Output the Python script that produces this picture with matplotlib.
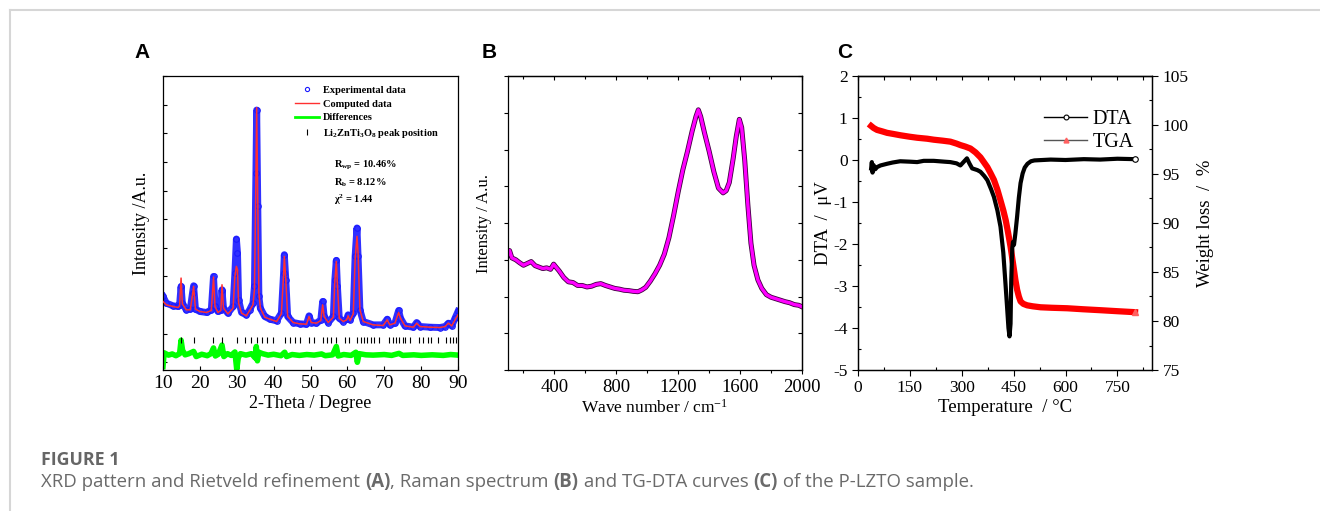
import numpy as np
import matplotlib
matplotlib.use("Agg")
import matplotlib.pyplot as plt
from matplotlib.lines import Line2D
from matplotlib.ticker import MultipleLocator, NullFormatter

plt.rcParams.update({
    "font.family": "serif",
    "font.serif": ["Liberation Serif", "DejaVu Serif"],
    "mathtext.fontset": "custom",
    "mathtext.rm": "Liberation Serif",
    "mathtext.it": "Liberation Serif:italic",
    "mathtext.bf": "Liberation Serif:bold",
    "axes.linewidth": 0.9,
    "axes.unicode_minus": False,
})

# ── Panel A: XRD / Rietveld ──────────────────────────────────────
xrd_theta = [10.0, 10.9, 12.7, 14.1, 14.5, 14.9, 15.25, 16.3, 17.4, 18.0, 18.3, 18.8,
             20.0, 21.8, 23.1, 23.7, 24.1, 24.9, 25.7, 26.0, 26.4, 27.6, 29.0, 29.5,
             29.9, 30.2, 30.5, 31.3, 32.6, 33.5, 34.4, 34.8, 35.2, 35.4, 35.7, 36.0,
             36.4, 37.6, 39.0, 40.8, 42.1, 42.7, 42.9, 43.3, 43.8, 45.3, 47.1, 48.9,
             49.6, 50.2, 51.6, 52.8, 53.3, 53.7, 54.8, 56.2, 56.6, 57.0, 57.3, 57.8,
             58.9, 59.8, 60.2, 60.7, 61.6, 62.1, 62.6, 62.9, 63.4, 64.3, 67.0, 69.7,
             70.8, 71.5, 72.9, 73.9, 74.4, 75.6, 77.9, 78.8, 79.7, 82.4, 85.1, 86.5,
             87.4, 88.3, 89.2, 90.0]
xrd_exp = [2299, 2066, 1972, 1949, 2007, 2649, 2066, 1832, 1856, 2416, 2672, 1856,
           1774, 1739, 1832, 2999, 1949, 1774, 1809, 2532, 1891, 1716, 1949, 3116,
           4306, 3816, 2182, 1739, 1657, 1832, 2066, 2649, 6617, 8811, 5450, 2299,
           1891, 1599, 1505, 1447, 1716, 3116, 3758, 2882, 1599, 1389, 1342, 1330,
           1622, 1389, 1365, 1482, 2124, 1599, 1389, 1599, 2882, 3559, 2649, 1540,
           1424, 1505, 1657, 1482, 1716, 3699, 4691, 3699, 1832, 1424, 1307, 1307,
           1505, 1307, 1365, 1809, 1540, 1272, 1225, 1389, 1249, 1225, 1214, 1249,
           1365, 1272, 1540, 1774]
xrd_calc = [2124, 2007, 1949, 1914, 1972, 2941, 2042, 1832, 1832, 2357, 2649, 1856,
            1774, 1739, 1809, 2976, 1949, 1739, 1809, 2707, 1891, 1692, 1891, 2999,
            3349, 3233, 2066, 1716, 1622, 1809, 2007, 2532, 6383, 8893, 5683, 2416,
            1891, 1575, 1505, 1424, 1692, 3058, 3699, 2882, 1599, 1389, 1342, 1330,
            1599, 1389, 1365, 1459, 2007, 1599, 1389, 1575, 2824, 3524, 2707, 1540,
            1424, 1482, 1622, 1459, 1692, 3583, 4400, 3816, 1832, 1424, 1307, 1284,
            1482, 1307, 1365, 1739, 1540, 1272, 1225, 1365, 1249, 1225, 1214, 1249,
            1365, 1272, 1482, 1657]

diff_theta = [10.0, 10.3, 11.5, 12.5, 13.5, 14.5, 14.9, 15.3, 16.0, 17.0, 18.3, 19.0,
              20.5, 22.0, 23.0, 23.7, 24.2, 25.0, 26.0, 26.5, 27.5, 28.5, 29.5, 30.0,
              30.4, 31.0, 32.5, 34.0, 35.0, 35.3, 35.6, 36.0, 37.0, 38.5, 40.0, 42.0,
              43.0, 43.5, 45.0, 47.0, 49.0, 51.0, 53.0, 54.0, 56.0, 57.0, 57.5, 59.0,
              61.0, 62.3, 62.7, 63.2, 65.0, 67.0, 70.0, 72.0, 74.0, 75.0, 78.0, 80.0,
              83.0, 86.0, 88.0, 90.0]
diff_int = [-150, 330, 250, 290, 230, 300, 770, 420, 260, 300, 380, 200,
            280, 230, 300, 500, 220, 280, 600, 200, 300, 240, 360, -250,
            150, 300, 250, 300, 150, 550, 50, 350, 300, 250, 280, 230,
            350, 200, 270, 240, 270, 250, 290, 230, 260, 550, 220, 270,
            240, 350, 0, 300, 260, 250, 270, 240, 310, 240, 260, 240,
            260, 240, 270, 250]

peak_pos = [14.89, 18.33, 23.68, 26.03, 30.2, 32.19, 33.82, 35.36, 36.72, 38.08,
            39.71, 43.15, 44.42, 45.78, 47.23, 49.67, 50.94, 53.3, 54.38, 55.47,
            56.92, 59.46, 60.54, 62.72, 63.62, 64.62, 65.43, 66.43, 67.34, 68.70,
            71.41, 72.32, 73.13, 74.13, 74.95, 75.76, 77.03, 79.47, 80.47, 81.74,
            82.64, 84.46, 86.72, 87.72, 88.62, 89.53]

# ── Panel B: Raman ───────────────────────────────────────────────
raman_x = [100, 110, 125, 150, 175, 200, 225, 250, 275, 300, 325, 350, 375, 395,
           410, 430, 460, 490, 520, 550, 580, 610, 640, 670, 700, 730, 760, 790,
           820, 850, 880, 910, 940, 965, 990, 1020, 1050, 1080, 1110, 1140, 1170,
           1200, 1230, 1260, 1290, 1315, 1330, 1345, 1370, 1400, 1430, 1460, 1490,
           1510, 1530, 1555, 1575, 1595, 1610, 1630, 1650, 1670, 1690, 1715, 1740,
           1770, 1800, 1830, 1860, 1890, 1920, 1950, 1980, 2000]
raman_y = [3.15, 3.25, 3.05, 3.00, 2.92, 2.85, 2.90, 2.95, 2.84, 2.80, 2.76, 2.78,
           2.74, 2.88, 2.80, 2.70, 2.52, 2.40, 2.38, 2.30, 2.30, 2.26, 2.28, 2.33,
           2.35, 2.30, 2.26, 2.22, 2.20, 2.17, 2.16, 2.14, 2.13, 2.18, 2.25, 2.42,
           2.62, 2.85, 3.15, 3.60, 4.20, 4.85, 5.45, 5.95, 6.50, 6.90, 7.08, 6.90,
           6.45, 5.95, 5.40, 4.95, 4.82, 4.88, 5.10, 5.75, 6.35, 6.82, 6.60, 5.70,
           4.50, 3.45, 2.85, 2.45, 2.22, 2.05, 1.98, 1.94, 1.90, 1.86, 1.83, 1.78,
           1.76, 1.72]

# ── Panel C: TG-DTA ──────────────────────────────────────────────
dta_t = [38, 40, 42, 45, 50, 55, 65, 84, 100, 122, 150, 171, 190, 219, 250, 267,
         285, 296, 305, 315, 322, 330, 345, 354, 365, 374, 385, 393, 403, 412, 420,
         426, 431, 435, 438, 441, 443, 446, 448, 451, 455, 460, 465, 470, 476, 482,
         490, 500, 510, 557, 600, 653, 700, 750, 801]
dta_v = [-0.20, -0.05, -0.30, -0.12, -0.22, -0.17, -0.13, -0.09, -0.06, -0.03, -0.04,
         -0.05, -0.02, -0.02, -0.04, -0.05, -0.08, -0.13, -0.05, 0.04, -0.08, -0.20,
         -0.24, -0.28, -0.38, -0.48, -0.70, -0.88, -1.20, -1.59, -2.20, -2.90, -3.50,
         -4.00, -4.20, -3.90, -2.90, -2.10, -1.95, -2.02, -1.75, -1.35, -0.90, -0.55,
         -0.32, -0.18, -0.09, -0.03, -0.01, 0.01, 0.00, 0.02, 0.01, 0.03, 0.02]

tga_t = [38, 45, 55, 70, 84, 100, 123, 150, 171, 200, 219, 245, 267, 285, 296, 310,
         325, 340, 354, 364, 374, 383, 393, 403, 412, 420, 427, 434, 441, 446, 451,
         455, 460, 465, 470, 478, 489, 505, 528, 560, 605, 650, 702, 750, 801]
tga_w = [99.9, 99.7, 99.5, 99.35, 99.2, 99.1, 98.95, 98.8, 98.7, 98.6, 98.5, 98.4,
         98.3, 98.1, 97.95, 97.8, 97.6, 97.2, 96.7, 96.2, 95.7, 95.1, 94.4, 93.4,
         92.3, 91.3, 90.3, 89.0, 87.6, 86.4, 85.2, 84.2, 83.2, 82.5, 82.0, 81.75,
         81.6, 81.5, 81.4, 81.35, 81.3, 81.2, 81.1, 81.0, 80.9]

W, H = 1320, 511
fig = plt.figure(figsize=(W / 100, H / 100), dpi=100)


def box(left, top, right, bottom):
    return [left / W, 1 - bottom / H, (right - left) / W, (bottom - top) / H]


# ── A ────────────────────────────────────────────────────────────
axA = fig.add_axes(box(163, 76, 458, 370))
axA.plot(xrd_theta, xrd_exp, color="#3030ff", lw=5, solid_joinstyle="round", zorder=2)
axA.plot(xrd_theta, xrd_exp, ls="none", marker="o", ms=4, mfc="none",
         mec="#1a1aff", mew=0.8, zorder=2)
axA.plot(xrd_theta, xrd_calc, color="#ff3030", lw=1.1, zorder=3)
axA.plot(diff_theta, diff_int, color="#00ff00", lw=4, zorder=2)
axA.plot(peak_pos, np.full(len(peak_pos), 770), ls="none", marker="|", ms=4.5,
         color="k", mew=0.8)

axA.set_xlim(10, 90)
axA.set_ylim(-270, 10000)
axA.xaxis.set_major_locator(MultipleLocator(10))
axA.yaxis.set_major_locator(MultipleLocator(1000))
axA.yaxis.set_major_formatter(NullFormatter())
axA.tick_params(direction="in", length=3, width=0.8, labelsize=14)
axA.set_xlabel("2-Theta / Degree", fontsize=13, labelpad=2)
axA.set_ylabel("Intensity /A.u.", fontsize=13, labelpad=6)

legA = [
    Line2D([0], [0], ls="none", marker="o", ms=3, mfc="none", mec="#1a1aff", mew=0.8),
    Line2D([0], [0], color="#ff3030", lw=1.0),
    Line2D([0], [0], color="#00ff00", lw=2.0),
    Line2D([0], [0], ls="none", marker="|", ms=4, color="k", mew=0.8),
]
axA.legend(legA, ["Experimental data", "Computed data", "Differences",
                  r"Li$_{\mathregular{2}}$ZnTi$_{\mathregular{3}}$O$_{\mathregular{8}}$ peak position"],
           loc="upper left", bbox_to_anchor=(0.43, 0.985), frameon=False,
           prop={"weight": "bold", "size": 7.5}, labelspacing=0.42,
           handlelength=2.3, handletextpad=0.4, borderpad=0)
for i, s in enumerate([r"R$_{\mathregular{wp}}$ = 10.46%",
                       r"R$_{\mathregular{b}}$ = 8.12%",
                       r"χ$^{\mathregular{2}}$ = 1.44"]):
    axA.text(0.578, 0.695 - i * 0.058, s, transform=axA.transAxes,
             fontsize=7.5, fontweight="bold", va="center", ha="left")

# ── B ────────────────────────────────────────────────────────────
axB = fig.add_axes(box(508, 76, 802, 370))
axB.plot(raman_x, raman_y, color="#400040", lw=3.6, solid_joinstyle="round")
axB.plot(raman_x, raman_y, color="#ff00ff", lw=2.4, solid_joinstyle="round")
axB.set_xlim(100, 2000)
axB.set_ylim(0, 8)
axB.xaxis.set_major_locator(MultipleLocator(400))
axB.xaxis.set_minor_locator(MultipleLocator(200))
axB.yaxis.set_major_locator(MultipleLocator(1))
axB.yaxis.set_major_formatter(NullFormatter())
axB.tick_params(direction="out", length=3, width=0.8, labelsize=13.5)
axB.tick_params(which="minor", direction="out", length=2, width=0.8)
secBy = axB.secondary_yaxis("right")
secBy.yaxis.set_major_locator(MultipleLocator(1))
secBy.tick_params(direction="in", length=3, width=0.8, labelright=False)
secBx = axB.secondary_xaxis("top")
secBx.xaxis.set_major_locator(MultipleLocator(400))
secBx.xaxis.set_minor_locator(MultipleLocator(200))
secBx.tick_params(direction="in", length=3, width=0.8, labeltop=False)
secBx.tick_params(which="minor", direction="in", length=2, width=0.8)
axB.set_xlabel(r"Wave number / cm$^{\mathregular{-1}}$", fontsize=12.5, labelpad=2)
axB.set_ylabel("Intensity / A.u.", fontsize=12, labelpad=5)

# ── C ────────────────────────────────────────────────────────────
axC = fig.add_axes(box(858, 76, 1152, 370))
axC2 = axC.twinx()
axC.plot(dta_t, dta_v, color="k", lw=3.0, solid_joinstyle="round", zorder=3)
axC.plot(dta_t[-1:], dta_v[-1:], ls="none", marker="o", ms=4, mfc="white",
         mec="k", mew=0.8, zorder=4)
axC2.plot(tga_t, tga_w, color="#ff0000", lw=4.5, solid_joinstyle="round", zorder=3)
axC2.plot(tga_t[-1:], tga_w[-1:], ls="none", marker="^", ms=4, color="#ff6060", zorder=4)
axC.set_zorder(axC2.get_zorder() + 1)
axC.patch.set_visible(False)

axC.set_xlim(0, 850)
axC.set_ylim(-5, 2)
axC2.set_ylim(75, 105)
axC.xaxis.set_major_locator(MultipleLocator(150))
axC.xaxis.set_minor_locator(MultipleLocator(75))
axC.yaxis.set_major_locator(MultipleLocator(1))
axC.yaxis.set_minor_locator(MultipleLocator(0.5))
axC2.yaxis.set_major_locator(MultipleLocator(5))
axC2.yaxis.set_minor_locator(MultipleLocator(2.5))
axC.tick_params(direction="out", length=4, width=0.8, labelsize=12.5)
axC.tick_params(which="minor", direction="in", length=2.5, width=0.8)
axC2.tick_params(direction="out", length=4, width=0.8, labelsize=12.5)
axC2.tick_params(which="minor", direction="in", length=2.5, width=0.8)
secC = axC.secondary_xaxis("top")
secC.xaxis.set_major_locator(MultipleLocator(75))
secC.tick_params(direction="in", length=3, width=0.8, labeltop=False)
axC.set_xlabel("Temperature  / °C", fontsize=13.5, labelpad=2)
axC.set_ylabel("DTA  /  μV", fontsize=13.5, labelpad=1)
axC2.set_ylabel("Weight loss  /  %", fontsize=13.5, labelpad=6)

legC = [
    Line2D([0], [0], color="k", lw=1.0, marker="o", ms=3.5, mfc="white", mec="k", mew=0.8),
    Line2D([0], [0], color="#555555", lw=1.0, marker="^", ms=3.5, mfc="#ff6060", mec="#ff6060"),
]
axC.legend(legC, ["DTA", "TGA"], loc="upper left", bbox_to_anchor=(0.6, 0.92),
           frameon=False, fontsize=14.5, handlelength=2.1, handletextpad=0.3,
           labelspacing=0.2, borderpad=0)

# ── Panel letters ───────────────────────────────────────────────
for x, s in [(142, "A"), (489, "B"), (845, "C")]:
    fig.text(x / W, 1 - 53 / H, s, fontsize=15, fontweight="bold",
             family="Liberation Sans", ha="center", va="center")

# ── Frame lines ─────────────────────────────────────────────────
fig.add_artist(Line2D([10 / W, 1], [1 - 10 / H, 1 - 10 / H], color="#d6d6d6", lw=1.5))
fig.add_artist(Line2D([10 / W, 10 / W], [0, 1 - 10 / H], color="#d6d6d6", lw=1.5))

# ── Caption ─────────────────────────────────────────────────────
fig.text(41 / W, 1 - 460 / H, "FIGURE 1", family="Open Sans", fontweight="bold",
         fontsize=12.8, color="#666666", va="center")
renderer = fig.canvas.get_renderer()
pieces = [("XRD pattern and Rietveld refinement ", "normal"), ("(A)", "bold"),
          (", Raman spectrum ", "normal"), ("(B)", "bold"),
          (" and TG-DTA curves ", "normal"), ("(C)", "bold"),
          (" of the P-LZTO sample.", "normal")]
xpos = 41
for s, wgt in pieces:
    t = fig.text(xpos / W, 1 - 487 / H, s, family="Open Sans", fontweight=wgt,
                 fontsize=13.4, color="#6a6a6a", va="baseline")
    xpos = t.get_window_extent(renderer).x1

fig.savefig("out.png", dpi=100, facecolor="white")
